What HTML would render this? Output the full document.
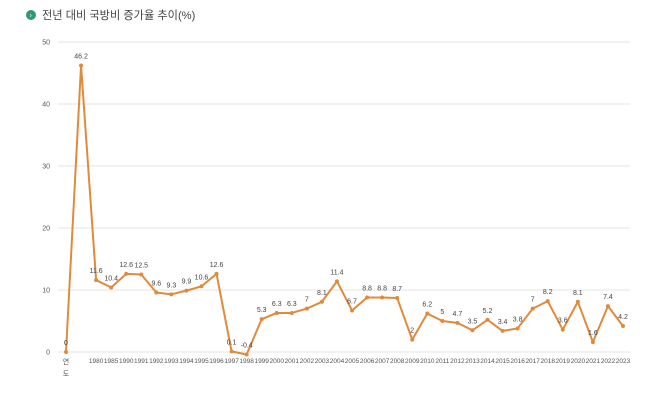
<!DOCTYPE html>
<html><head><meta charset="utf-8"><style>
body{margin:0;background:#fff;font-family:"Liberation Sans","Noto Sans CJK KR",sans-serif;}
#wrap{position:relative;width:670px;height:400px;overflow:hidden}
</style></head><body>
<div id="wrap">
<svg id="chart" width="670" height="400" xmlns="http://www.w3.org/2000/svg">
<circle cx="31" cy="15" r="5" fill="#2e9b6e"/>
<text x="29.5" y="17.5" font-size="7" fill="#fff" font-family="Liberation Sans">›</text>
<text x="42" y="19" font-size="11.2" fill="#444" font-family="Liberation Sans, Noto Sans CJK KR, sans-serif">전년 대비 국방비 증가율 추이(%)</text>
<g id="grid"></g><g id="xlabels"></g><g id="series"></g>
</svg>
</div>
<script>
const categories=["연도","","1980","1985","1990","1991","1992","1993","1994","1995","1996","1997","1998","1999","2000","2001","2002","2003","2004","2005","2006","2007","2008","2009","2010","2011","2012","2013","2014","2015","2016","2017","2018","2019","2020","2021","2022","2023"];
const values=[0,46.2,11.6,10.4,12.6,12.5,9.6,9.3,9.9,10.6,12.6,0.1,-0.4,5.3,6.3,6.3,7,8.1,11.4,6.7,8.8,8.8,8.7,2,6.2,5,4.7,3.5,5.2,3.4,3.8,7,8.2,3.6,8.1,1.6,7.4,4.2];
const yTicks=[0,10,20,30,40,50];
const NS="http://www.w3.org/2000/svg";
const x0=66,x1=623,yBase=352,yPer=6.2;
const xs=i=>x0+i*(x1-x0)/(categories.length-1);
const ys=v=>yBase-v*yPer;
function mk(tag,attrs,parent,txt){const e=document.createElementNS(NS,tag);for(const k in attrs)e.setAttribute(k,attrs[k]);if(txt!==undefined)e.textContent=txt;parent.appendChild(e);return e;}
const grid=document.getElementById('grid'),xl=document.getElementById('xlabels'),ser=document.getElementById('series');
yTicks.forEach(t=>{
 const l=mk('line',{x1:58,x2:630,y1:ys(t),y2:ys(t),stroke:'#e6e6e6','stroke-width':1},grid);
 
 
 const tx=mk('text',{x:50,y:ys(t)+2.5,'font-size':7,fill:'#555','text-anchor':'end'},grid,String(t));
 
 
});
categories.forEach((c,i)=>{
 if(c==="")return;
 if(i===0){
  const a=mk('text',{x:xs(i),y:364,'font-size':7,fill:'#555','text-anchor':'middle'},xl,'연');
  
  
  const b=mk('text',{x:xs(i),y:376,'font-size':7,fill:'#555','text-anchor':'middle'},xl,'도');
  
  
  return;
 }
 const t=mk('text',{x:xs(i),y:363,'font-size':6.5,fill:'#555','text-anchor':'middle'},xl,c);
 
 
});
const pts=values.map((v,i)=>xs(i)+','+ys(v)).join(' ');
const pl=mk('polyline',{points:pts,fill:'none',stroke:'#e08a3c','stroke-width':2,'stroke-linejoin':'round'},ser);


values.forEach((v,i)=>{
 const c=mk('circle',{cx:xs(i),cy:ys(v),r:2,fill:'#e08a3c'},ser);
 
 
 const t=mk('text',{x:xs(i),y:ys(v)-7,'font-size':7,fill:'#444','text-anchor':'middle'},ser,String(v));
 
 
});
</script>
</body></html>
